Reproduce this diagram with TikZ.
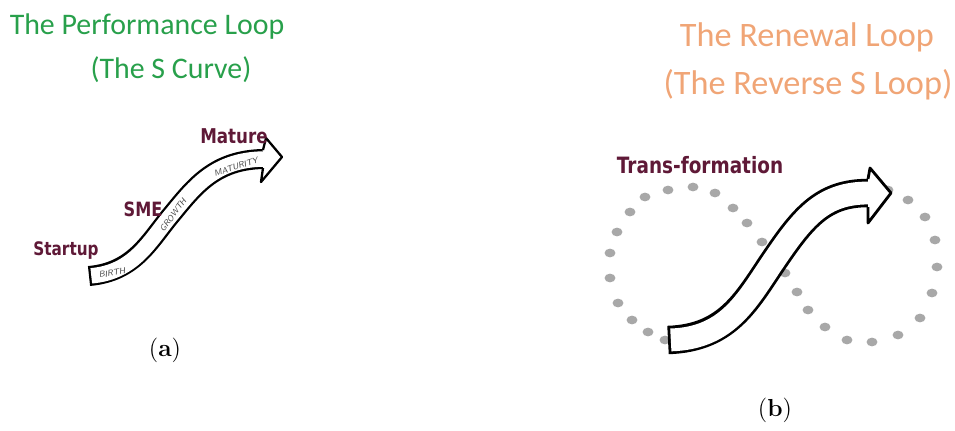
\documentclass[tikz,border=0pt]{standalone}
\usepackage{fontspec}
\newfontfamily\titlefont{Carlito}
\newfontfamily\handfont[FakeStretch=0.82]{DejaVu Sans}
\definecolor{perfgreen}{RGB}{40,160,75}
\definecolor{renorange}{RGB}{240,165,118}
\definecolor{stagered}{RGB}{95,25,55}
\definecolor{dotgray}{RGB}{168,168,168}
\tikzset{
  titletext/.style={font=\titlefont\fontsize{17}{20}\selectfont, inner sep=0pt},
  bigtitle/.style={font=\titlefont\fontsize{19.5}{22}\selectfont, inner sep=0pt},
  stagetext/.style={font=\handfont\bfseries\fontsize{#1}{12}\selectfont, text=stagered, inner sep=0pt},
  stagetext/.default=11,
  bandtext/.style={font=\sffamily\itshape\fontsize{4.8}{5}\selectfont, text=black!70, inner sep=0pt},
  captext/.style={font=\fontsize{14}{16}\selectfont, inner sep=0pt},
  dot/.style={fill=dotgray},
}
\begin{document}
\begin{tikzpicture}[x=0.02cm, y=-0.02cm]
\useasboundingbox (0,0) rectangle (955,430);

% ---------- titles ----------
\node[titletext, text=perfgreen] (ta1) at (147,27) {The Performance Loop};
\node[titletext, text=perfgreen] (ta2) at (171,70) {(The S Curve)};
\node[bigtitle, text=renorange] (tb1) at (807,37) {The Renewal Loop};
\node[bigtitle, text=renorange] (tb2) at (808,85) {(The Reverse S Loop)};

% ---------- (a) S curve arrow ----------
\def\curveA{(89,276) .. controls (135,272) and (150,240) .. (172,214) .. controls (195,186) and (215,160) .. (263,159)}
\path[draw=black, line width=11.4pt] \curveA;
\path[draw=white, line width=8.8pt, shorten <=1.3pt] \curveA;
\filldraw[fill=white, draw=black, line width=1.3pt, line join=round]
  (263,150) -- (266,138) -- (282,157) -- (261,182) -- (263,168);

\node[bandtext, rotate=9]  (birth)    at (112,273) {BIRTH};
\node[bandtext, rotate=54] (growth)   at (173,215) {GROWTH};
\node[bandtext, rotate=18] (maturity) at (236,167) {MATURITY};

\node[stagetext=11.6] (mature)  at (234,136) {Mature};
\node[stagetext=11.2] (sme)     at (143,209) {SME};
\node[stagetext=10.6] (startup) at (66,251)  {Startup};

\node[captext] (capa) at (165,350) {(\textbf{a})};

% ---------- (b) dotted loop ----------
\foreach \p in {
  (648,332),(632,320),(618,303),(610,278),(610,253),(617,232),(630,212),
  (645,197),(668,190),(693,187),(715,193),(733,208),(747,223),(762,242),
  (773,258),(785,273),(797,292),(808,310),(825,327),(847,340),(872,342),
  (898,335),(920,318),(932,293),(937,267),(935,240),(925,217),(908,200),
  (888,190),(665,340)}
  \fill[dot] \p ellipse (3.1pt and 2.5pt);

% ---------- (b) reverse S arrow ----------
\def\curveB{(668,340) .. controls (730,338) and (748,298) .. (777,256) .. controls (805,215) and (825,193) .. (868,193)}
\path[draw=black, line width=16.2pt] \curveB;
\path[draw=white, line width=13pt, shorten <=1.6pt] \curveB;
\filldraw[fill=white, draw=black, line width=1.6pt, line join=round]
  (868,179) -- (870,168) -- (891,193) -- (868,223) -- (868,207);

\node[stagetext=12.8] (trans) at (700,165) {Trans-formation};

\node[captext] (capb) at (775,410) {(\textbf{b})};
\end{tikzpicture}
\end{document}
